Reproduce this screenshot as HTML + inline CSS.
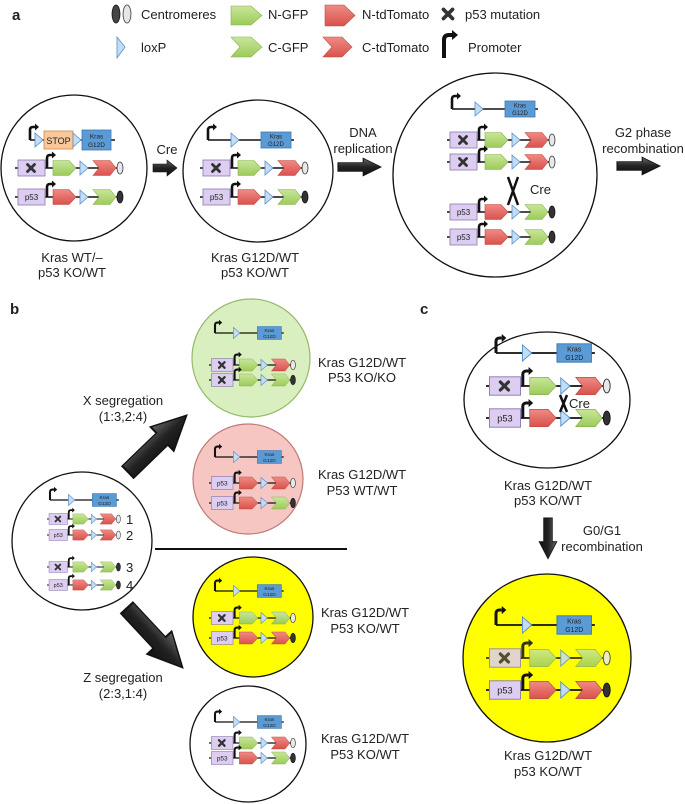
<!DOCTYPE html>
<html><head><meta charset="utf-8"><style>
html,body{margin:0;padding:0;background:#fff}
svg{display:block}
text{font-family:"Liberation Sans",Arial,sans-serif;fill:#222}
</style></head><body>
<svg width="685" height="804" viewBox="0 0 685 804" xmlns="http://www.w3.org/2000/svg">
<defs>
<linearGradient id="gG" x1="0" y1="0" x2="0" y2="1"><stop offset="0" stop-color="#c8e69a"/><stop offset="1" stop-color="#9ccb5a"/></linearGradient>
<linearGradient id="gR" x1="0" y1="0" x2="0" y2="1"><stop offset="0" stop-color="#f08a84"/><stop offset="1" stop-color="#d9524c"/></linearGradient>
<linearGradient id="gA" x1="0" y1="0" x2="0" y2="1"><stop offset="0" stop-color="#666"/><stop offset="0.5" stop-color="#222"/><stop offset="1" stop-color="#111"/></linearGradient>
<g id="xm"><path d="M-3.5,-3.5 L3.5,3.5 M3.5,-3.5 L-3.5,3.5" stroke="#333" stroke-width="2.8" stroke-linecap="round"/></g>
<g id="boxM"><rect x="3" y="-8" width="27" height="16" fill="#dccdf1" stroke="#8a78b0" stroke-width="0.8"/><use href="#xm" x="16" y="0"/></g>
<g id="boxP"><rect x="3" y="-8" width="27" height="16" fill="#dccdf1" stroke="#8a78b0" stroke-width="0.8"/><text x="16.5" y="3" font-size="8" text-anchor="middle">p53</text></g>
<g id="prom"><path d="M32,0 V-10 Q32,-13 35,-13 H37" fill="none" stroke="#111" stroke-width="2.6"/><polygon points="37,-16.5 41,-13 37,-9.5" fill="#111"/></g>
<polygon id="ng" points="38,-7.5 54,-7.5 61,0 54,7.5 38,7.5" fill="url(#gG)" stroke="#88b050" stroke-width="0.6"/>
<polygon id="nt" points="38,-7.5 54,-7.5 61,0 54,7.5 38,7.5" fill="url(#gR)" stroke="#c04a44" stroke-width="0.6"/>
<polygon id="lox" points="65,-7 73,0 65,7" fill="#c3ddf4" stroke="#5a8fc8" stroke-width="0.8"/>
<polygon id="cg" points="78,-7.5 95,-7.5 101,0 95,7.5 78,7.5 84,0" fill="url(#gG)" stroke="#88b050" stroke-width="0.6"/>
<polygon id="ct" points="78,-7.5 95,-7.5 101,0 95,7.5 78,7.5 84,0" fill="url(#gR)" stroke="#c04a44" stroke-width="0.6"/>
<ellipse id="cw" cx="105" cy="0" rx="3" ry="6" fill="#e8e8e8" stroke="#333" stroke-width="0.8"/>
<ellipse id="cb" cx="105" cy="0" rx="3" ry="6" fill="#333" stroke="#111" stroke-width="0.8"/>
<line id="ln" x1="0" y1="0" x2="106" y2="0" stroke="#111" stroke-width="1.6"/>
<g id="rA"><use href="#ln"/><use href="#boxM"/><use href="#prom"/><use href="#ng"/><use href="#lox"/><use href="#ct"/><use href="#cw"/></g>
<g id="rB"><use href="#ln"/><use href="#boxP"/><use href="#prom"/><use href="#nt"/><use href="#lox"/><use href="#cg"/><use href="#cb"/></g>
<g id="rC"><use href="#ln"/><use href="#boxP"/><use href="#prom"/><use href="#nt"/><use href="#lox"/><use href="#ct"/><use href="#cw"/></g>
<g id="rD"><use href="#ln"/><use href="#boxM"/><use href="#prom"/><use href="#ng"/><use href="#lox"/><use href="#cg"/><use href="#cb"/></g>
<g id="rE"><use href="#ln"/><use href="#boxM"/><use href="#prom"/><use href="#ng"/><use href="#lox"/><use href="#cg"/><use href="#cw"/></g>
<g id="rF"><use href="#ln"/><use href="#boxP"/><use href="#prom"/><use href="#nt"/><use href="#lox"/><use href="#ct"/><use href="#cb"/></g>
<g id="kr"><line x1="0" y1="0" x2="86" y2="0" stroke="#111" stroke-width="1.6"/><path d="M0,0 V-10 Q0,-13 3,-13 H5" fill="none" stroke="#111" stroke-width="2.6"/><polygon points="5,-16.5 9,-13 5,-9.5" fill="#111"/><polygon points="23,-7 31,0 23,7" fill="#c3ddf4" stroke="#5a8fc8" stroke-width="0.8"/><rect x="53" y="-8" width="30" height="16" fill="#5b9bd5" stroke="#3a78b5" stroke-width="0.8"/><text x="68" y="-1.5" font-size="6" text-anchor="middle" fill="#123">Kras</text><text x="68" y="6" font-size="6" text-anchor="middle" fill="#123">G12D</text></g>
<g id="bar"><polygon points="0,-4 14,-4 14,-8 24,0 14,8 14,4 0,4" fill="url(#gA)" stroke="#111" stroke-width="0.6"/></g>
</defs>

<!-- legend -->
<text x="12" y="20" font-size="15" font-weight="bold">a</text>
<ellipse cx="116" cy="14" rx="4" ry="9" fill="#444" stroke="#111" stroke-width="0.8"/>
<ellipse cx="127" cy="14" rx="4" ry="9" fill="#e6e6e6" stroke="#333" stroke-width="0.8"/>
<text x="141" y="19" font-size="13">Centromeres</text>
<polygon points="231,6 251,6 262,15.5 251,25 231,25" fill="url(#gG)" stroke="#88b050" stroke-width="0.6"/>
<text x="268" y="19" font-size="13">N-GFP</text>
<polygon points="325,5 344,5 355,15.5 344,26 325,26" fill="url(#gR)" stroke="#c04a44" stroke-width="0.6"/>
<text x="362" y="19" font-size="13">N-tdTomato</text>
<use href="#xm" transform="translate(448,14) scale(1.3)"/>
<text x="465" y="19" font-size="13">p53 mutation</text>
<polygon points="117,37 125,47 117,58" fill="#c3ddf4" stroke="#5a8fc8" stroke-width="0.8"/>
<text x="141" y="52" font-size="13">loxP</text>
<polygon points="231,37 251,37 262,47 251,57 231,57 240,47" fill="url(#gG)" stroke="#88b050" stroke-width="0.6"/>
<text x="268" y="52" font-size="13">C-GFP</text>
<polygon points="323,37 342,37 352,47 342,57 323,57 332,47" fill="url(#gR)" stroke="#c04a44" stroke-width="0.6"/>
<text x="362" y="52" font-size="13">C-tdTomato</text>
<path d="M444,58 V40 Q444,35 449,35 H452" fill="none" stroke="#111" stroke-width="4"/><polygon points="452,30 458,35 452,40" fill="#111"/>
<text x="468" y="52" font-size="13">Promoter</text>

<!-- panel a circles -->
<ellipse cx="74" cy="168" rx="73" ry="73" fill="#fff" stroke="#111" stroke-width="1.3"/>
<line x1="30" y1="140" x2="115" y2="140" stroke="#111" stroke-width="1.6"/>
<path d="M30,140 V130 Q30,127 33,127 H35" fill="none" stroke="#111" stroke-width="2.6"/><polygon points="35,123.5 39,127 35,130.5" fill="#111"/>
<polygon points="35,133 43,140 35,147" fill="#c3ddf4" stroke="#5a8fc8" stroke-width="0.8"/>
<rect x="44" y="131" width="29" height="18" fill="#f8c89a" stroke="#d08a4a" stroke-width="0.8"/><text x="58.5" y="144" font-size="9" text-anchor="middle">STOP</text>
<polygon points="73,133 81,140 73,147" fill="#c3ddf4" stroke="#5a8fc8" stroke-width="0.8"/>
<rect x="82" y="130" width="29" height="20" fill="#5b9bd5" stroke="#3a78b5" stroke-width="0.8"/><text x="96.5" y="138.5" font-size="6.5" text-anchor="middle" fill="#123">Kras</text><text x="96.5" y="147" font-size="6.5" text-anchor="middle" fill="#123">G12D</text>
<use href="#rA" transform="translate(15,168)"/>
<use href="#rB" transform="translate(15,197)"/>
<text x="72" y="262" font-size="13" text-anchor="middle">Kras WT/–</text>
<text x="72" y="277" font-size="13" text-anchor="middle">p53 KO/WT</text>

<text x="167" y="154" font-size="13" text-anchor="middle">Cre</text>
<use href="#bar" transform="translate(153,168)"/>

<ellipse cx="258" cy="171" rx="75" ry="71" fill="#fff" stroke="#111" stroke-width="1.3"/>
<use href="#kr" transform="translate(208,140)"/>
<use href="#rA" transform="translate(200,168)"/>
<use href="#rB" transform="translate(200,197)"/>
<text x="255" y="262" font-size="13" text-anchor="middle">Kras G12D/WT</text>
<text x="255" y="277" font-size="13" text-anchor="middle">p53 KO/WT</text>

<text x="363" y="137" font-size="13" text-anchor="middle">DNA</text>
<text x="363" y="153" font-size="13" text-anchor="middle">replication</text>
<use href="#bar" transform="translate(338,167) scale(1.8,1.1)"/>

<ellipse cx="495" cy="175" rx="102" ry="102" fill="#fff" stroke="#111" stroke-width="1.3"/>
<use href="#kr" transform="translate(452,109)"/>
<use href="#rA" transform="translate(447,140)"/>
<use href="#rA" transform="translate(447,162)"/>
<use href="#rB" transform="translate(447,212)"/>
<use href="#rB" transform="translate(447,237)"/>
<path d="M508,177 L518,205 M518,177 L508,205" stroke="#111" stroke-width="2.5"/>
<text x="530" y="194" font-size="13">Cre</text>

<text x="643" y="137" font-size="13" text-anchor="middle">G2 phase</text>
<text x="643" y="153" font-size="13" text-anchor="middle">recombination</text>
<use href="#bar" transform="translate(617,166) scale(1.8,1.1)"/>

<!-- panel b -->
<text x="10" y="314" font-size="15" font-weight="bold">b</text>
<circle cx="251" cy="358" r="59" fill="#d9efbf" stroke="#94b96a" stroke-width="1.2"/>
<use href="#kr" transform="translate(215,333) scale(0.8)"/>
<use href="#rA" transform="translate(209,365) scale(0.8)"/>
<use href="#rD" transform="translate(209,380) scale(0.8)"/>
<text x="362" y="367" font-size="13" text-anchor="middle">Kras G12D/WT</text>
<text x="362" y="382" font-size="13" text-anchor="middle">P53 KO/KO</text>

<text x="123" y="405" font-size="13" text-anchor="middle">X segregation</text>
<text x="123" y="421" font-size="13" text-anchor="middle">(1:3,2:4)</text>
<use href="#bar" transform="translate(128,472) rotate(-44) scale(3.4,2.1)"/>

<circle cx="248" cy="479" r="55" fill="#f6c6c3" stroke="#c07a76" stroke-width="1.2"/>
<use href="#kr" transform="translate(215,457) scale(0.8)"/>
<use href="#rC" transform="translate(209,483) scale(0.8)"/>
<use href="#rB" transform="translate(209,503) scale(0.8)"/>
<text x="362" y="479" font-size="13" text-anchor="middle">Kras G12D/WT</text>
<text x="362" y="495" font-size="13" text-anchor="middle">P53 WT/WT</text>

<ellipse cx="82" cy="541" rx="70" ry="69" fill="#fff" stroke="#111" stroke-width="1.3"/>
<use href="#kr" transform="translate(50,500) scale(0.8)"/>
<use href="#rA" transform="translate(47,519) scale(0.68)"/>
<use href="#rC" transform="translate(47,535) scale(0.68)"/>
<use href="#rD" transform="translate(47,567) scale(0.68)"/>
<use href="#rB" transform="translate(47,585) scale(0.68)"/>
<text x="126" y="524" font-size="13">1</text>
<text x="126" y="540" font-size="13">2</text>
<text x="126" y="572" font-size="13">3</text>
<text x="126" y="590" font-size="13">4</text>
<line x1="155" y1="549" x2="347" y2="549" stroke="#111" stroke-width="2"/>

<circle cx="253" cy="617" r="60" fill="#ffff00" stroke="#111" stroke-width="1.3"/>
<use href="#kr" transform="translate(215,591) scale(0.8)"/>
<use href="#rE" transform="translate(209,618) scale(0.8)"/>
<use href="#rF" transform="translate(209,638) scale(0.8)"/>
<text x="365" y="617" font-size="13" text-anchor="middle">Kras G12D/WT</text>
<text x="365" y="633" font-size="13" text-anchor="middle">P53 KO/WT</text>

<use href="#bar" transform="translate(127,608) rotate(47) scale(3.4,2.1)"/>
<text x="123" y="682" font-size="13" text-anchor="middle">Z segregation</text>
<text x="123" y="698" font-size="13" text-anchor="middle">(2:3,1:4)</text>

<circle cx="248" cy="744" r="58" fill="#fff" stroke="#111" stroke-width="1.3"/>
<use href="#kr" transform="translate(215,722) scale(0.8)"/>
<use href="#rA" transform="translate(209,743) scale(0.8)"/>
<use href="#rB" transform="translate(209,758) scale(0.8)"/>
<text x="365" y="743" font-size="13" text-anchor="middle">Kras G12D/WT</text>
<text x="365" y="759" font-size="13" text-anchor="middle">P53 KO/WT</text>

<!-- panel c -->
<text x="420" y="314" font-size="15" font-weight="bold">c</text>
<ellipse cx="547" cy="400" rx="83" ry="68" fill="#fff" stroke="#111" stroke-width="1.3"/>
<use href="#kr" transform="translate(496,353) scale(1.15)"/>
<use href="#rA" transform="translate(486,386) scale(1.15)"/>
<use href="#rB" transform="translate(486,418) scale(1.15)"/>
<path d="M560,395 L567,412 M567,395 L560,412" stroke="#111" stroke-width="2.5"/>
<text x="569" y="408" font-size="13">Cre</text>
<text x="548" y="490" font-size="13" text-anchor="middle">Kras G12D/WT</text>
<text x="548" y="505" font-size="13" text-anchor="middle">p53 KO/WT</text>

<use href="#bar" transform="translate(548,518) rotate(90) scale(1.7,1.1)"/>
<text x="602" y="535" font-size="13" text-anchor="middle">G0/G1</text>
<text x="602" y="551" font-size="13" text-anchor="middle">recombination</text>

<circle cx="547" cy="658" r="84" fill="#ffff00" stroke="#111" stroke-width="1.3"/>
<use href="#kr" transform="translate(496,625) scale(1.15)"/>
<g opacity="0.85"><use href="#rE" transform="translate(486,658) scale(1.15)"/></g>
<use href="#rF" transform="translate(486,690) scale(1.15)"/>
<text x="548" y="760" font-size="13" text-anchor="middle">Kras G12D/WT</text>
<text x="548" y="776" font-size="13" text-anchor="middle">p53 KO/WT</text>
</svg>
</body></html>
